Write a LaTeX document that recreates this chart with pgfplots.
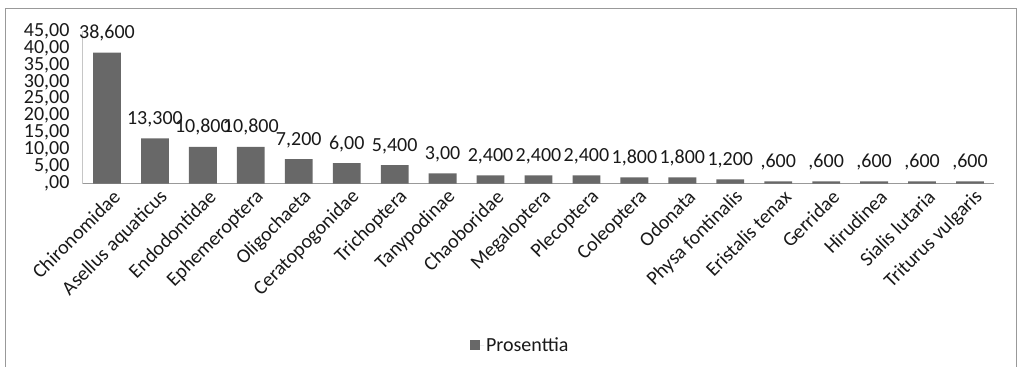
\documentclass[border=0pt]{standalone}
\usepackage{pgfplots}
\pgfplotsset{compat=1.18}
\usepackage{pgfplotstable}
\usepackage{fontspec}
\setmainfont{Carlito}
\definecolor{barc}{RGB}{104,104,104}
\definecolor{txt}{RGB}{25,25,25}
\pgfplotstableread{
x y lab
0 38.6 38,600
1 13.3 13,300
2 10.8 10,800
3 10.8 10,800
4 7.2 7,200
5 6.0 6,00
6 5.4 5,400
7 3.0 3,00
8 2.4 2,400
9 2.4 2,400
10 2.4 2,400
11 1.8 1,800
12 1.8 1,800
13 1.2 1,200
14 0.6 ,600
15 0.6 ,600
16 0.6 ,600
17 0.6 ,600
18 0.6 ,600
}\datatable
\begin{document}
\begin{tikzpicture}[x=1pt,y=1pt,font=\fontsize{20}{20}\selectfont]
\path[use as bounding box] (0,0) rectangle (1018,-367);
\draw[line width=1.5pt,color=gray!80] (5.5,-367) -- (5.5,-8.5) -- (1016.5,-8.5) -- (1016.5,-367);
\begin{axis}[
  at={(83pt,-183.5pt)}, anchor=south west,
  scale only axis, width=911pt, height=152.5pt,
  xmin=-0.5, xmax=18.5, ymin=0, ymax=45,
  axis lines*=left,
  x axis line style={draw=gray!80, line width=1pt},
  y axis line style={draw=gray!45, line width=1pt},
  major tick length=0pt,
  xtick=data,
  xticklabels={Chironomidae, Asellus aquaticus, Endodontidae, Ephemeroptera, Oligochaeta, Ceratopogonidae, Trichoptera, Tanypodinae, Chaoboridae, Megaloptera, Plecoptera, Coleoptera, Odonata, Physa fontinalis, Eristalis tenax, Gerridae, Hirudinea, Sialis lutaria, Triturus vulgaris},
  xticklabel style={rotate=45, anchor=east, font=\fontsize{20}{20}\selectfont, text=txt, xshift=3pt, yshift=-14pt},
  ytick={0,5,...,45},
  yticklabels={{,00},{5,00},{10,00},{15,00},{20,00},{25,00},{30,00},{35,00},{40,00},{45,00}},
  yticklabel style={font=\fontsize{20}{20}\selectfont, text=txt, xshift=-10pt},
  legend style={draw=none, at={(0.48,-1.06)}, anchor=center, font=\fontsize{20}{20}\selectfont, text=txt},
  legend image code/.code={\path (0pt,0pt) -- (14pt,0pt); \fill[barc] (0pt,-5pt) rectangle (10pt,5pt);},
]
\addplot[ybar, bar width=0.58, fill=barc, draw=none,
  point meta=explicit symbolic,
  nodes near coords, nodes near coords style={font=\fontsize{20}{20}\selectfont, text=txt, yshift=8pt}]
  table[x=x, y=y, meta=lab] {\datatable};
\addlegendentry{Prosenttia}
\end{axis}
\end{tikzpicture}
\end{document}
